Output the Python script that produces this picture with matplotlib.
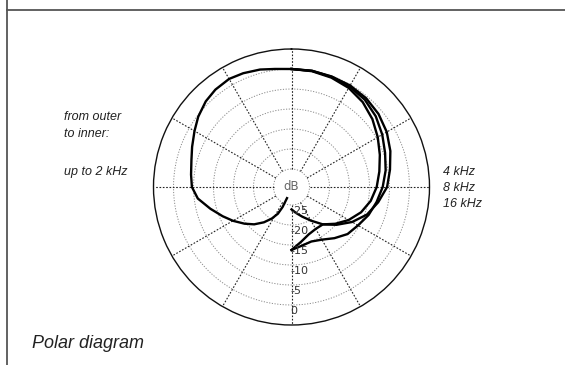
import numpy as np
import matplotlib
matplotlib.use("Agg")
import matplotlib.pyplot as plt
from matplotlib.lines import Line2D
import matplotlib.transforms as mtrans

# ---- data (degrees, dB) ----
low_theta = [360, 352, 345, 337, 330, 322, 315, 307, 300, 292, 285, 277, 270,
             263, 255, 247, 240, 232, 225, 218, 212, 207, 204, 202]
low_db = [0, 0.3, 0.9, 1.4, 1.7, 1.4, 0.8, -0.3, -1.5, -2.7, -3.6, -4.2, -4.6,
          -5.9, -8.5, -10.8, -12.6, -14.6, -16.3, -18.3, -20.2, -22.0, -24.0, -26.5]

hi_theta = [0, 10, 20, 30, 40, 50, 60, 70, 80, 90, 100, 110, 120, 130, 140, 150, 160, 170, 180]
khz4_db = [0, 0, -0.1, -0.2, -0.5, -1.1, -2.0, -3.2, -4.5, -5.6, -7.5, -9.4, -12.0,
           -14.8, -17.3, -19.8, -21.6, -22.9, -23.9]
khz8_db = [0, 0, -0.2, -0.5, -1.0, -2.0, -3.3, -4.6, -5.6, -6.7, -7.9, -9.0, -10.3,
           -11.2, -12.8, -14.3, -15.0, -14.6, -13.75]
khz16_db = [0, -0.1, -0.4, -0.9, -1.8, -3.1, -4.6, -6.0, -7.2, -8.2, -9.4, -11.0, -13.0,
            -15.2, -17.3, -17.4, -16.9, -15.6, -13.75]

ring_levels = [-25, -20, -15, -10, -5, 0]
ring_labels = ["-25", "-20", "-15", "-10", "-5", "0"]
spoke_angles = list(range(0, 360, 30))

left_notes = ["from outer", "to inner:", "up to 2 kHz"]
right_notes = ["4 kHz", "8 kHz", "16 kHz"]
caption = "Polar diagram"

R_MIN, R_MAX = -29.5, 5.0

W, H = 565, 365
fig = plt.figure(figsize=(W / 100, H / 100), dpi=100)
fig.patch.set_facecolor("white")

cx, cy, rad = 291.5, 178.0, 138.0
ax = fig.add_axes([(cx - rad) / W, (cy - rad) / H, 2 * rad / W, 2 * rad / H],
                  projection="polar")
ax.set_theta_zero_location("N")
ax.set_theta_direction(-1)
ax.set_ylim(R_MIN, R_MAX)
ax.grid(False)
ax.set_xticks([])
ax.set_yticks([])
ax.spines["polar"].set_color("#111111")
ax.spines["polar"].set_linewidth(1.0)

full = np.linspace(0, 2 * np.pi, 361)
for lv in ring_levels:
    ax.plot(full, np.full_like(full, lv), color="#8a8a8a", lw=0.7,
            linestyle=(0, (1.2, 1.6)), zorder=1)

for a in spoke_angles:
    t = np.deg2rad(a)
    ax.plot([t, t], [-25, R_MAX], color="#222222", lw=0.8,
            linestyle=(0, (1.5, 1.5)), zorder=1)

lw = 1.7
ax.plot(np.deg2rad(low_theta), low_db, color="black", lw=lw, zorder=3)
ax.plot(np.deg2rad(hi_theta), khz4_db, color="black", lw=lw, zorder=3)
ax.plot(np.deg2rad(hi_theta), khz8_db, color="black", lw=lw, zorder=3)
ax.plot(np.deg2rad(hi_theta), khz16_db, color="black", lw=lw, zorder=3)

ax.text(0, R_MIN, "dB", ha="center", va="center", fontsize=8.5,
        color="#666666", family="DejaVu Sans", zorder=4)

shift = mtrans.ScaledTranslation(-1.5 / 100, 0, fig.dpi_scale_trans)
for lv, lab in zip(ring_levels, ring_labels):
    rr = lv + 1.4
    ax.text(np.deg2rad(180), rr, lab, ha="left", va="center", fontsize=8,
            color="#333333", family="DejaVu Sans", zorder=4,
            transform=ax.transData + shift)

# frame lines
fig.add_artist(Line2D([7 / W, 7 / W], [0, 1], color="#555555", lw=1.3))
fig.add_artist(Line2D([7 / W, 1], [1 - 10 / H, 1 - 10 / H], color="#555555", lw=1.3))

fs = 9
fam = ["Liberation Sans", "DejaVu Sans"]
for txt, y in zip(left_notes, [117, 134, 172]):
    fig.text(64 / W, 1 - y / H, txt, ha="left", va="center", fontsize=fs,
             style="italic", family=fam, color="#222222")
for txt, y in zip(right_notes, [172, 188, 204]):
    fig.text(443 / W, 1 - y / H, txt, ha="left", va="center", fontsize=fs,
             style="italic", family=fam, color="#222222")

fig.text(32 / W, 1 - 343 / H, caption, ha="left", va="center", fontsize=13,
         style="italic", family=fam, color="#222222")

fig.savefig("out.png", dpi=100, facecolor="white")
